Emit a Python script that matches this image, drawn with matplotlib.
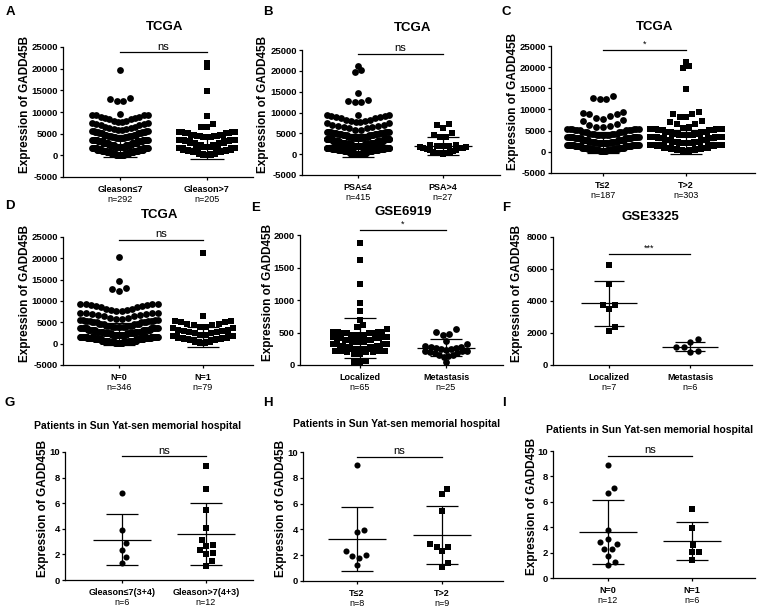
import numpy as np
import matplotlib
matplotlib.use('Agg')
import matplotlib.pyplot as plt

plt.rcParams['font.family'] = ['Liberation Sans', 'DejaVu Sans']
plt.rcParams['axes.unicode_minus'] = False

# ---------------- data ----------------
# big TCGA / GSE6919 groups: value of a row of points and how many points sit there
a1_vals = [19700, 12500, 12600, 12900, 13200, 9500,
           7700, 8000, 8300, 8600, 8900, 9200, 9400,
           5800, 6000, 6300, 6600, 6900, 7200, 7400,
           3900, 4200, 4500, 4800, 5100, 5400, 5600,
           2000, 2400, 2800, 3200, 3600,
           100, 400, 700, 1000, 1300, 1600]
a1_cnts = [1, 1, 1, 1, 1, 1,
           2, 2, 2, 2, 2, 2, 2,
           2, 2, 2, 2, 2, 2, 2,
           6, 6, 6, 6, 6, 6, 4,
           20, 20, 20, 20, 20,
           16, 20, 20, 20, 20, 22]
a2_vals = [21200, 20300, 14800, 9000, 6500, 6600, 7200,
           4200, 4500, 4800, 5100, 5400,
           2000, 2400, 2800, 3200, 3600,
           100, 400, 700, 1000, 1300, 1600]
a2_cnts = [1, 1, 1, 1, 1, 1, 1,
           4, 4, 4, 4, 4,
           12, 12, 12, 12, 12,
           16, 20, 22, 22, 20, 18]

b1_vals = [21200, 19700, 20200, 14800, 12500, 12800, 13100, 9500,
           7700, 8000, 8300, 8600, 8900, 9200, 9400,
           5900, 6200, 6500, 6800, 7100, 7400,
           3900, 4200, 4500, 4800, 5100, 5400,
           2000, 2400, 2800, 3200, 3600,
           100, 400, 700, 1000, 1300, 1600]
b1_cnts = [1, 1, 1, 1, 2, 1, 1, 1,
           2, 2, 2, 2, 2, 2, 2,
           2, 2, 2, 2, 2, 2,
           8, 8, 8, 8, 8, 8,
           30, 30, 30, 30, 30,
           20, 28, 32, 34, 34, 34]
b2_vals = [7200, 6900, 6200, 5200, 4700, 4200, 4100, 2200, 2100, 2000,
           1900, 1900, 1800, 1700, 1600, 1500, 1400, 1200, 1000, 900,
           700, 600, 500, 400, 300, 200, 100]

c1_vals = [12500, 12800, 13200,
           7700, 8000, 8400, 8900, 9000, 9200, 9300,
           5800, 5900, 6000, 6400, 6600, 7400, 7500,
           3900, 4300, 4700, 5100, 5500,
           2000, 2400, 2800, 3200, 3600,
           100, 400, 700, 1000, 1300, 1600]
c1_cnts = [2, 1, 1,
           1, 1, 1, 1, 1, 1, 1,
           1, 1, 1, 1, 1, 1, 1,
           6, 6, 6, 6, 6,
           12, 12, 12, 12, 12,
           7, 12, 14, 14, 16, 16]
c2_vals = [21200, 19700, 20200, 14800,
           8300, 8900, 9000, 9400,
           5700, 5800, 6500, 6600, 7100, 7300,
           3900, 4300, 4700, 5100, 5500,
           2000, 2400, 2800, 3200, 3600,
           100, 400, 700, 1000, 1300, 1600]
c2_cnts = [1, 1, 1, 1,
           2, 1, 1, 1,
           1, 1, 1, 1, 1, 1,
           10, 10, 10, 10, 10,
           20, 20, 20, 20, 20,
           14, 20, 24, 26, 27, 27]

d1_vals = [20200, 14800, 12400, 12800, 13100,
           7600, 7900, 8200, 8500, 8800, 9100, 9400,
           5800, 6100, 6400, 6700, 7000, 7300,
           3900, 4200, 4600, 5000, 5300, 5600,
           2000, 2400, 2800, 3200, 3600,
           100, 400, 700, 1000, 1300, 1600]
d1_cnts = [1, 1, 1, 1, 1,
           2, 2, 2, 2, 2, 2, 4,
           2, 2, 2, 2, 2, 4,
           6, 6, 6, 6, 6, 4,
           14, 14, 14, 14, 14,
           20, 34, 38, 38, 39, 38]
d2_vals = [21200, 6600, 4000, 4300, 4700, 5000, 5300,
           2100, 2400, 2700, 3000, 3300, 3600,
           200, 500, 800, 1100, 1400, 1700]
d2_cnts = [1, 1, 2, 2, 2, 2, 2,
           2, 2, 2, 2, 2, 2,
           6, 8, 10, 10, 10, 11]

e1_vals = [1870, 1610, 1240, 950, 830, 700, 560, 590, 610,
           430, 460, 490, 510, 320, 350, 380, 410,
           220, 250, 280, 300, 170, 200, 40, 50, 60]
e1_cnts = [1, 1, 1, 1, 1, 1, 1, 1, 1,
           3, 4, 4, 4, 4, 4, 4, 4,
           4, 5, 4, 4, 2, 3, 1, 1, 1]
e2_vals = [560, 510, 470, 460, 370, 330, 300, 280, 270, 260, 260, 250, 240,
           230, 220, 220, 210, 200, 190, 180, 160, 150, 140, 120, 50]

f1_vals = [6250, 5050, 3750, 3750, 3500, 2400, 2100]
f2_vals = [1600, 1450, 1100, 1100, 850, 800]

g1_vals = [6.77, 3.88, 2.87, 2.35, 1.83, 1.32]
g2_vals = [8.94, 7.1, 5.48, 4.03, 3.1, 2.74, 2.66, 2.35, 2.12, 2.07, 1.45, 1.11]
h1_vals = [8.96, 3.95, 3.82, 2.31, 2.05, 1.95, 1.79, 1.22]
h2_vals = [7.12, 6.75, 5.43, 2.83, 2.65, 2.6, 2.31, 1.4, 1.09]
i1_vals = [8.9, 7.07, 6.73, 3.8, 3.06, 2.8, 2.67, 2.28, 2.28, 1.75, 1.23, 0.99]
i2_vals = [5.42, 3.93, 2.57, 2.04, 2.02, 1.39]

# mean and SD bars as drawn
a_mean, a_sd = [2150, 1750], [2500, 2500]
b_mean, b_sd = [2100, 2000], [2700, 2100]
c_mean, c_sd = [2200, 2300], [2450, 2850]
d_mean, d_sd = [2300, 1600], [2600, 2300]
e_mean, e_sd = [420, 265], [307, 130]
f_mean, f_sd = [3850, 1150], [1400, 300]
g_mean, g_sd = [3.15, 3.6], [1.97, 2.4]
h_mean, h_sd = [3.26, 3.58], [2.47, 2.24]
i_mean, i_sd = [3.63, 2.9], [2.5, 1.5]

a_cats, a_n = ['Gleason≤7', 'Gleason>7'], ['n=292', 'n=205']
b_cats, b_n = ['PSA≤4', 'PSA>4'], ['n=415', 'n=27']
c_cats, c_n = ['T≤2', 'T>2'], ['n=187', 'n=303']
d_cats, d_n = ['N=0', 'N=1'], ['n=346', 'n=79']
e_cats, e_n = ['Localized', 'Metastasis'], ['n=65', 'n=25']
f_cats, f_n = ['Localized', 'Metastasis'], ['n=7', 'n=6']
g_cats, g_n = ['Gleason≤7(3+4)', 'Gleason>7(4+3)'], ['n=6', 'n=12']
h_cats, h_n = ['T≤2', 'T>2'], ['n=8', 'n=9']
i_cats, i_n = ['N=0', 'N=1'], ['n=12', 'n=6']

tcga_ticks = [-5000, 0, 5000, 10000, 15000, 20000, 25000]
e_ticks = [0, 500, 1000, 1500, 2000]
f_ticks = [0, 2000, 4000, 6000, 8000]
ghi_ticks = [0, 2, 4, 6, 8, 10]

hosp = 'Patients in Sun Yat-sen memorial hospital'

W, H = 758, 611
fig = plt.figure(figsize=(W / 100, H / 100), dpi=100)


def fx(px):
    return px / W


def fy(py):
    return 1 - py / H


def swarm(vals, center, bin_h, b0, step, maxhalf):
    # Prism-like column scatter: rows of points, lowest in the middle
    v = np.asarray(vals, dtype=float)
    x = np.full(v.shape, float(center))
    idx = np.floor((v - b0) / bin_h).astype(int)
    for b in np.unique(idx):
        sel = np.where(idx == b)[0]
        sel = sel[np.argsort(v[sel], kind='stable')]
        n = len(sel)
        if n < 2:
            continue
        sp = min(step, 2 * maxhalf / (n - 1))
        slots = (np.arange(n) - (n - 1) / 2) * sp
        order = sorted(range(n), key=lambda k: (abs(slots[k]), slots[k]))
        for k, i in zip(order, sel):
            x[i] = center + slots[k]
    return x


def beeswarm(vals, center, dpx, ypp, upp):
    # small groups: put each point as near the middle as it can go
    v = np.asarray(vals, dtype=float)
    x = np.zeros(v.shape)
    placed = []
    for i in np.argsort(v):
        yp = v[i] * ypp
        cands = [0.0]
        for qx, qy in placed:
            dy = yp - qy
            if abs(dy) < dpx:
                dx = np.sqrt(dpx ** 2 - dy ** 2)
                cands += [qx + dx, qx - dx]
        cands.sort(key=abs)
        for cx in cands:
            if all((cx - qx) ** 2 + (yp - qy) ** 2 >= dpx ** 2 - 1e-6 for qx, qy in placed):
                break
        placed.append((cx, yp))
        x[i] = center + cx * upp
    return x


panels = [
    dict(letter='A', lpos=(10, 12), title='TCGA', tpos=(165, 27), tsize=9.5,
         box=(63, 253, 47, 177), cx=(120, 207), ylim=(-5000, 25000), ticks=tcga_ticks,
         data=[(a1_vals, a1_cnts), (a2_vals, a2_cnts)], marks=('o', 's'),
         mean=a_mean, sd=a_sd, cats=a_cats, ns=a_n, sig=('ns', 23800),
         lay='bin', bins=(1900, 0), ms=4.9, maxhalf=(0.32, 0.32), ylx=25),
    dict(letter='B', lpos=(268, 12), title='TCGA', tpos=(413, 28), tsize=9.5,
         box=(302, 500, 50, 175), cx=(358, 443), ylim=(-5000, 25000), ticks=tcga_ticks,
         data=[(b1_vals, b1_cnts), (b2_vals, None)], marks=('o', 's'),
         mean=b_mean, sd=b_sd, cats=b_cats, ns=b_n, sig=('ns', 24000),
         lay='bin', bins=(1900, 0), ms=4.9, maxhalf=(0.37, 0.27), ylx=263),
    dict(letter='C', lpos=(506, 12), title='TCGA', tpos=(655, 27), tsize=9.5,
         box=(551, 755, 46, 173), cx=(603, 686), ylim=(-5000, 25000), ticks=tcga_ticks,
         data=[(c1_vals, c1_cnts), (c2_vals, c2_cnts)], marks=('o', 's'),
         mean=c_mean, sd=c_sd, cats=c_cats, ns=c_n, sig=('*', 24000),
         lay='bin', bins=(1900, 0), ms=4.9, maxhalf=(0.43, 0.43), ylx=513),
    dict(letter='D', lpos=(10, 206), title='TCGA', tpos=(160, 215), tsize=9.5,
         box=(63, 253, 237, 365), cx=(119, 203), ylim=(-5000, 25000), ticks=tcga_ticks,
         data=[(d1_vals, d1_cnts), (d2_vals, d2_cnts)], marks=('o', 's'),
         mean=d_mean, sd=d_sd, cats=d_cats, ns=d_n, sig=('ns', 24400),
         lay='bin', bins=(1900, 0), ms=4.9, maxhalf=(0.46, 0.36), ylx=25),
    dict(letter='E', lpos=(256, 208), title='GSE6919', tpos=(403, 212), tsize=9.5,
         box=(300, 503, 235, 365), cx=(360, 446), ylim=(0, 2000), ticks=e_ticks,
         data=[(e1_vals, e1_cnts), (e2_vals, None)], marks=('s', 'o'),
         mean=e_mean, sd=e_sd, cats=e_cats, ns=e_n, sig=('*', 2077),
         lay='bin', bins=(115, 0), ms=4.9, maxhalf=(0.31, 0.24), ylx=268),
    dict(letter='F', lpos=(506, 208), title='GSE3325', tpos=(650, 217), tsize=9.5,
         box=(553, 752, 237, 365), cx=(609, 690), ylim=(0, 8000), ticks=f_ticks,
         data=[(f1_vals, None), (f2_vals, None)], marks=('s', 'o'),
         mean=f_mean, sd=f_sd, cats=f_cats, ns=f_n, sig=('***', 6960),
         lay='bee', ms=4.6, ylx=517),
    dict(letter='G', lpos=(10, 403), title=hosp, tpos=(138, 426), tsize=7.5,
         box=(65, 253, 452, 580), cx=(122, 206), ylim=(0, 10), ticks=ghi_ticks,
         data=[(g1_vals, None), (g2_vals, None)], marks=('o', 's'),
         mean=g_mean, sd=g_sd, cats=g_cats, ns=g_n, sig=('ns', 9.65),
         lay='bee', ms=4.4, ylx=43),
    dict(letter='H', lpos=(268, 403), title=hosp, tpos=(397, 424), tsize=7.5,
         box=(303, 503, 452, 581), cx=(357, 442), ylim=(0, 10), ticks=ghi_ticks,
         data=[(h1_vals, None), (h2_vals, None)], marks=('o', 's'),
         mean=h_mean, sd=h_sd, cats=h_cats, ns=h_n, sig=('ns', 9.6),
         lay='bee', ms=4.4, ylx=281),
    dict(letter='I', lpos=(504, 403), title=hosp, tpos=(650, 430), tsize=7.5,
         box=(553, 755, 451, 578), cx=(608, 692), ylim=(0, 10), ticks=ghi_ticks,
         data=[(i1_vals, None), (i2_vals, None)], marks=('o', 's'),
         mean=i_mean, sd=i_sd, cats=i_cats, ns=i_n, sig=('ns', 9.6),
         lay='bee', ms=4.4, ylx=532),
]

for p in panels:
    L, R, T, B = p['box']
    p1, p2 = p['cx']
    ax = fig.add_axes([fx(L), fy(B), (R - L) / W, (B - T) / H])
    upp = 1.0 / (p2 - p1)  # x data units per pixel
    ypp = (B - T) / (p['ylim'][1] - p['ylim'][0])  # pixels per y data unit
    ax.set_xlim(1 - (p1 - L) * upp, 2 + (R - p2) * upp)
    ax.set_ylim(*p['ylim'])

    for gi, ((vals, cnts), m) in enumerate(zip(p['data'], p['marks'])):
        y = np.repeat(vals, cnts) if cnts is not None else np.asarray(vals, float)
        ms = p['ms'] if m == 'o' else p['ms'] * 0.92
        mpx = ms / 0.72
        if p['lay'] == 'bin':
            x = swarm(y, gi + 1, p['bins'][0], p['bins'][1], mpx * upp, p['maxhalf'][gi])
        else:
            x = beeswarm(y, gi + 1, mpx * 1.25, ypp, upp)
        ax.scatter(x, y, s=ms ** 2, marker=m, c='black', linewidths=0,
                   zorder=2, clip_on=False)
        mu, sd = p['mean'][gi], p['sd'][gi]
        c = gi + 1
        ax.hlines(mu, c - 0.34, c + 0.34, color='k', lw=0.9, zorder=3)
        ax.hlines([mu - sd, mu + sd], c - 0.19, c + 0.19, color='k', lw=0.9, zorder=3)
        ax.vlines(c, mu - sd, mu + sd, color='k', lw=0.9, zorder=3)
        ax.annotate(p['cats'][gi], xy=(c, 0), xycoords=('data', 'axes fraction'),
                    xytext=(0, -9), textcoords='offset points', ha='center', va='center',
                    fontsize=6.5, fontweight='bold')
        ax.annotate(p['ns'][gi], xy=(c, 0), xycoords=('data', 'axes fraction'),
                    xytext=(0, -16.5), textcoords='offset points', ha='center', va='center',
                    fontsize=6.5)

    # significance bar
    txt, sy = p['sig']
    ax.plot([1, 2], [sy, sy], color='k', lw=0.9, clip_on=False)
    ax.annotate(txt, xy=(1.5, sy), xytext=(0, 0.5 if txt == 'ns' else 0.8),
                textcoords='offset points', ha='center', va='bottom',
                fontsize=8 if txt == 'ns' else 6.5, annotation_clip=False)

    for s in ['top', 'right']:
        ax.spines[s].set_visible(False)
    for s in ['left', 'bottom']:
        ax.spines[s].set_linewidth(0.9)
    ax.set_yticks(p['ticks'])
    ax.set_yticklabels([str(t) for t in p['ticks']], fontsize=6.8, fontweight='bold')
    ax.set_xticks([1, 2])
    ax.set_xticklabels([])
    ax.tick_params(length=2.5, width=0.9, pad=1.2)

    fig.text(fx(p['tpos'][0]), fy(p['tpos'][1]), p['title'], ha='center', va='center',
             fontsize=p['tsize'], fontweight='bold')
    fig.text(fx(p['lpos'][0]), fy(p['lpos'][1]), p['letter'], ha='center', va='center',
             fontsize=9.5, fontweight='bold')
    fig.text(fx(p['ylx']), fy((T + B) / 2 - 8), 'Expression of GADD45B', rotation=90,
             ha='center', va='center', fontsize=8.5, fontweight='bold')

fig.savefig('out.png', dpi=100)
